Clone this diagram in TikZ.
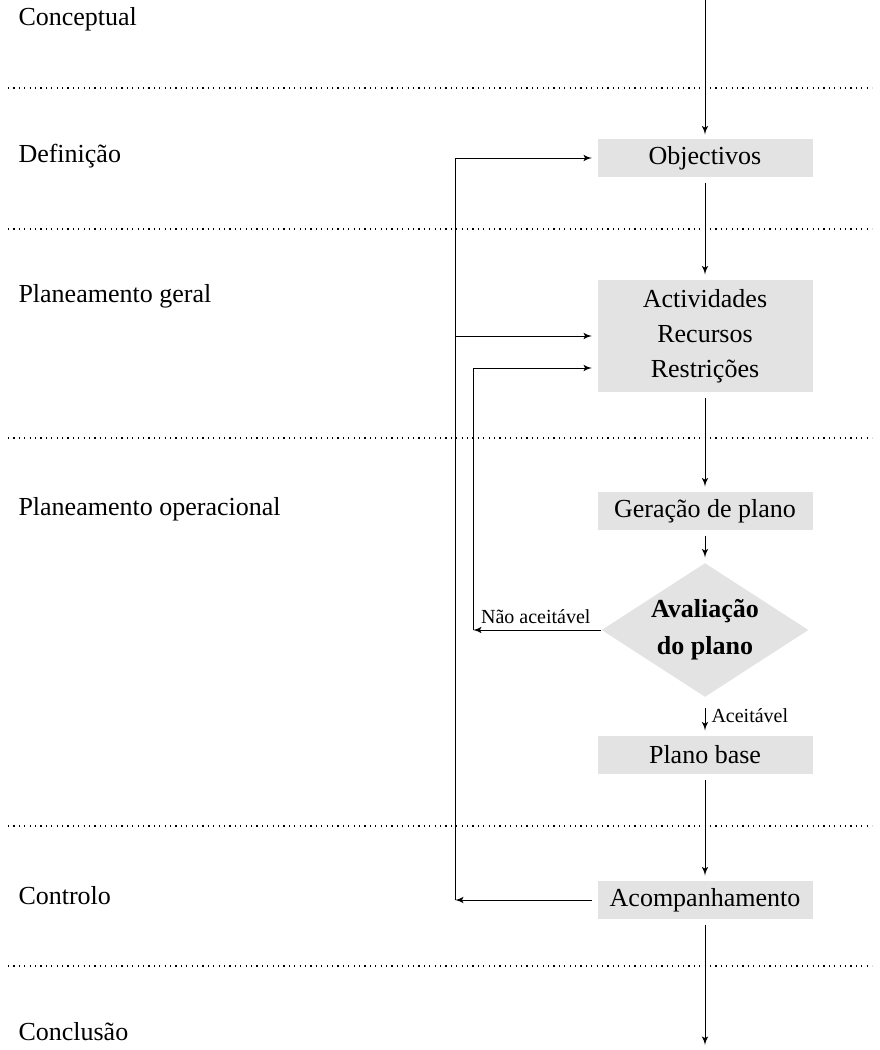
\documentclass[tikz,border=0pt]{standalone}
\usepackage{fontspec}
\setmainfont{Liberation Serif}
\usetikzlibrary{arrows,positioning,shapes.geometric}

\begin{document}
\begin{tikzpicture}[>=latex', x=0.5pt, y=-0.5pt, line width=0.5pt, font=\fontsize{13}{17.5}\selectfont]
        \tikzset{block/.style={fill=gray!22, align=center, minimum width=107.5pt, minimum height=19pt, inner sep=0pt},
        decision/.style={diamond, fill=gray!22, minimum width=103.5pt, minimum height=67pt, inner sep=0pt},
        stage/.style={anchor=west, inner sep=0pt, text height=0.7em, text depth=0.25em},
        note/.style={inner sep=0pt, font=\fontsize{10}{12}\selectfont},
        flow/.style={->, shorten >=2.5pt, shorten <=2.5pt},
        phase/.style={dash pattern=on 0.6pt off 2.1pt, line width=0.6pt}
        }
        \useasboundingbox (0,0) rectangle (879,1050);

%% phase separators
        \foreach \y in {88,229,438,826,966}
            \draw[phase] (8,\y) -- (872,\y);

%% phase names
        \node [stage] (conceptual) at (18,21) {Conceptual};
        \node [stage] (definicao) at (18,158) {Definição};
        \node [stage] (geral) at (18,298) {Planeamento geral};
        \node [stage] (operacional) at (18,511) {Planeamento operacional};
        \node [stage] (controlo) at (18,900) {Controlo};
        \node [stage] (conclusao) at (18,1036) {Conclusão};

%% main column
        \coordinate (start) at (705,0);
        \node [block] (obj) at (705,158) {Objectivos};
        \node [block, minimum height=56pt] (acts) at (705,336) {Actividades\\Recursos\\Restrições};
        \node [block] (gen) at (705,511) {Geração de plano};
        \node [decision] (eval) at (705,630) {};
        \node [font=\bfseries\fontsize{13}{18.5}\selectfont, align=center, inner sep=0pt] (evaltxt) at (eval) {Avaliação\\do plano};
        \node [block] (base) at (705,755) {Plano base};
        \node [block] (acomp) at (705,900) {Acompanhamento};
        \coordinate (stop) at (705,1050);
        \coordinate (loopA) at (455,900);  %% Coordinate for the control loop
        \coordinate (loopB) at (473,630);  %% Coordinate for the rejected plan

        \node [note, anchor=base east] (nao) at (591,623) {Não aceitável};
        \node [note, anchor=west] (aceit) at (711,716) {Aceitável};

%% paths
        \draw[->] (start) -- ([yshift=2pt]obj.north);
        \path[draw,flow] (obj) edge (acts)
                    (acts) edge (gen)
                    (gen) edge (eval)
                    (eval) edge[shorten <=5pt] (base)
                    (base) edge (acomp)
                    (acomp) edge (stop)
                    ;
        \draw[->, shorten <=2.5pt] (acomp) -- (loopA);
        \draw[->, shorten >=2.5pt] (loopA) |- (obj);
        \draw[->, shorten >=2.5pt] (loopA |- acts) -- (acts);
        \draw[->] (eval) -- (loopB);
        \draw[->, shorten >=2.5pt] (loopB) |- ([yshift=-16pt]acts.west);
\end{tikzpicture}
\end{document}
